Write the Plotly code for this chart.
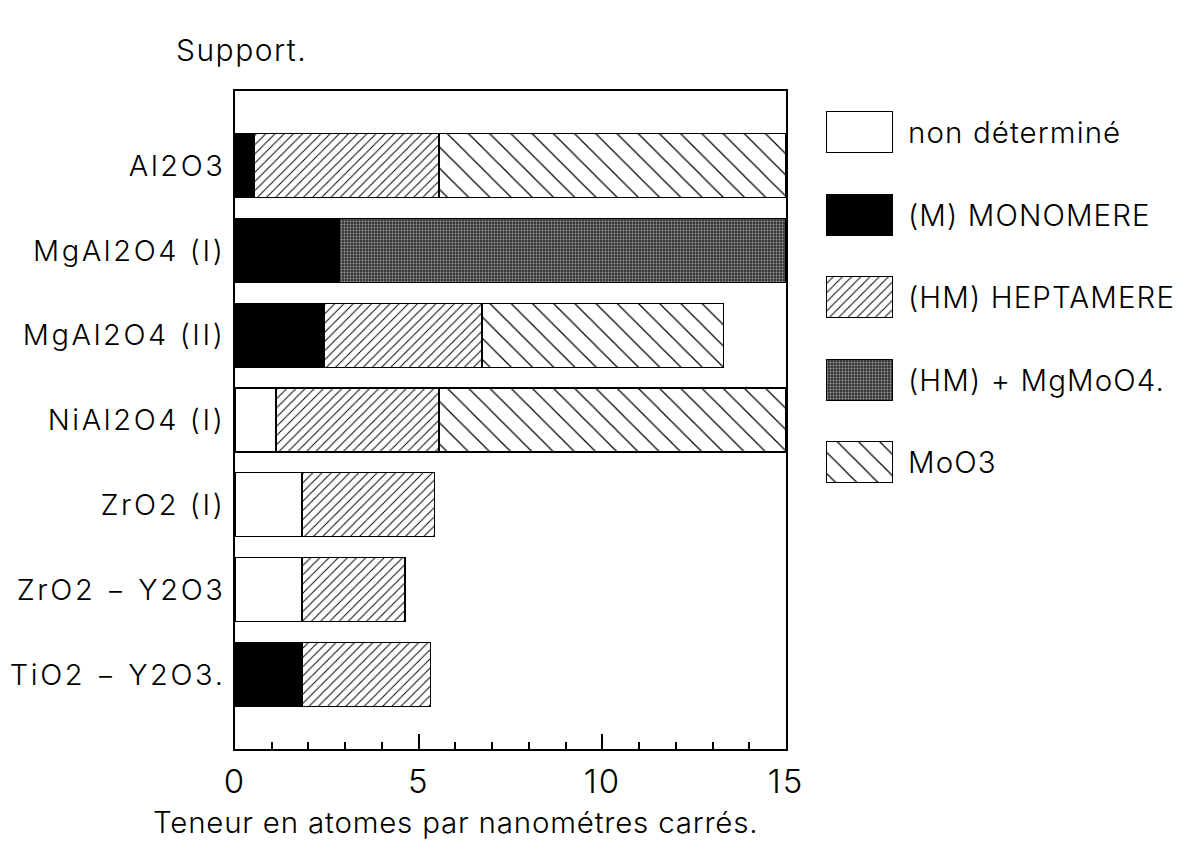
import plotly.graph_objects as go

# Supports (top to bottom) and the Mo species content (atoms / nm^2), stacked left to right
supports = ["Al2O3", "MgAl2O4 (I)", "MgAl2O4 (II)", "NiAl2O4 (I)",
            "ZrO2 (I)", "ZrO2 − Y2O3", "TiO2 − Y2O3."]

non_determine = [0.0, 0.0, 0.0, 1.12, 1.82, 1.82, 0.0]
monomere = [0.54, 2.84, 2.43, 0.0, 0.0, 0.0, 1.83]
heptamere = [5.01, 0.0, 4.29, 4.43, 3.61, 2.81, 3.50]
hm_mgmoo4 = [0.0, 12.16, 0.0, 0.0, 0.0, 0.0, 0.0]
moo3 = [9.45, 0.0, 6.58, 9.45, 0.0, 0.0, 0.0]

legend_labels = ["non déterminé", "(M) MONOMERE", "(HM) HEPTAMERE",
                 "(HM) + MgMoO4.", "MoO3"]

FONT = "Inter"
W, H = 1187, 856
ML, MR, MT, MB = 235, 20, 91, 107
PW = W - ML - MR
PH = H - MT - MB
PLOT_RIGHT = 786


def px_x(x):
    return (x - ML) / PW


def px_y(y):
    return 1 - (y - MT) / PH


def spaced(text, gap=1.5):
    return f'<span style="letter-spacing:{gap}px">{text}</span>'


def font(size):
    return dict(family=FONT, size=size, color="black", weight=300)


styles = [
    dict(color="white", pattern=None),
    dict(color="black", pattern=None),
    dict(color="white", pattern=dict(shape="/", fgcolor="black", bgcolor="white",
                                     size=6.5, solidity=0.15, fillmode="replace")),
    dict(color="#4a4a4a", pattern=dict(shape=".", fgcolor="#a0a0a0", bgcolor="#363636",
                                       size=3, solidity=0.3, fillmode="replace")),
    dict(color="white", pattern=dict(shape="\\", fgcolor="black", bgcolor="white",
                                     size=15, solidity=0.08, fillmode="replace")),
]
series = [non_determine, monomere, heptamere, hm_mgmoo4, moo3]

fig = go.Figure()
for name, vals, st in zip(legend_labels, series, styles):
    marker = dict(color=st["color"], line=dict(color="black", width=1.3))
    if st["pattern"]:
        marker["pattern"] = st["pattern"]
    fig.add_trace(go.Bar(
        y=supports, x=vals, orientation="h", name=name, marker=marker,
        width=0.755, showlegend=False, hoverinfo="x+name",
    ))

# Legend swatches drawn as unit bars on a small side axis
for i, (name, st) in enumerate(zip(legend_labels, styles)):
    marker = dict(color=st["color"], line=dict(color="black", width=1.3))
    if st["pattern"]:
        marker["pattern"] = dict(st["pattern"])
    fig.add_trace(go.Bar(
        y=[i], x=[1], orientation="h", name=name, marker=marker, width=0.497,
        xaxis="x2", yaxis="y2", showlegend=False, hoverinfo="name",
    ))
    fig.add_annotation(
        text=spaced(name, 1.1), xref="paper", yref="y2", x=px_x(906), y=i,
        xanchor="left", yanchor="middle", showarrow=False, font=font(29.5),
    )

fig.add_annotation(
    text=spaced("Support.", 1.5), xref="paper", yref="paper", x=px_x(174), y=px_y(50),
    xanchor="left", yanchor="middle", showarrow=False, font=font(30),
)
fig.add_annotation(
    text=spaced("Teneur en atomes par nanométres carrés.", 0.8), xref="paper",
    yref="paper", x=px_x(455), y=px_y(822), xanchor="center", yanchor="middle",
    showarrow=False, font=font(29.5),
)

fig.update_layout(
    barmode="stack",
    width=W, height=H,
    margin=dict(l=ML, r=MR, t=MT, b=MB, autoexpand=False),
    paper_bgcolor="white", plot_bgcolor="white",
    xaxis=dict(
        domain=[0, px_x(PLOT_RIGHT)], range=[0, 15], tickvals=[0, 5, 10, 15],
        ticktext=[spaced(str(v), 2) for v in [0, 5, 10, 15]],
        ticks="inside", ticklen=15, tickwidth=1.5, tickcolor="black",
        minor=dict(ticks="inside", dtick=1, ticklen=7, tickwidth=1.5, tickcolor="black"),
        showgrid=False, zeroline=False, showline=True, linecolor="black", linewidth=1.5,
        mirror=True, ticklabelstandoff=3, tickfont=font(33), automargin=False,
    ),
    yaxis=dict(
        domain=[0, 1], type="category", categoryorder="array", categoryarray=supports,
        range=[6.88, -0.88], tickvals=supports,
        ticktext=[spaced(s, 2.6) for s in supports],
        ticks="", showgrid=False, zeroline=False, showline=True, linecolor="black",
        linewidth=1.5, mirror=True, ticklabelstandoff=2, tickfont=font(29),
        automargin=False,
    ),
    xaxis2=dict(domain=[px_x(826), px_x(893)], range=[0, 1], visible=False,
                anchor="y2", automargin=False),
    yaxis2=dict(domain=[px_y(503.5), 1], range=[4.5, -0.5], visible=False,
                anchor="x2", automargin=False),
)

fig.write_html("out.html")
